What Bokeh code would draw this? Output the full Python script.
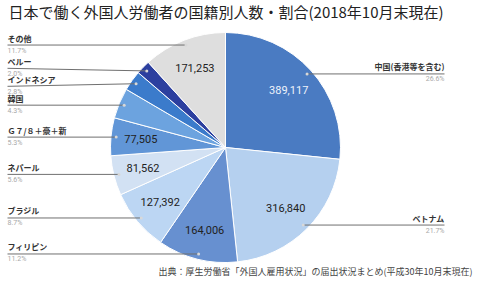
import math
from bokeh.plotting import figure
from bokeh.models import Range1d, ColumnDataSource
from bokeh.core.properties import value
from bokeh.embed import file_html
from bokeh.resources import INLINE

# ---- data ----
countries = ["中国(香港等を含む)", "ベトナム", "フィリピン", "ブラジル", "ネパール",
             "Ｇ７/８＋豪＋新", "韓国", "インドネシア", "ペルー", "その他"]
workers = [389117, 316840, 164006, 127392, 81562, 77505, 62516, 41586, 29102, 171253]
slice_colors = ["#4a7bc2", "#b5d0ef", "#6790d0", "#bcd6f3", "#d2e1f3",
                "#6196d7", "#6ca3df", "#3b7bcb", "#2c3f9f", "#dedede"]
value_text_colors = ["#eef3fb", "#222222", "#222222", "#222222", "#222222",
                     "#222222", "#222222", "#222222", "#222222", "#222222"]
show_value = [True, True, True, True, True, True, False, False, False, True]
title_text = "日本で働く外国人労働者の国籍別人数・割合(2018年10月末現在)"
source_text = "出典：厚生労働省「外国人雇用状況」の届出状況まとめ(平成30年10月末現在)"

# ---- layout ----
W, H = 479, 282
CX, CY_PX, R = 225, 147, 115
CY = H - CY_PX
JP = value("Noto Sans CJK JP")

total = sum(workers)
fracs = [v / total for v in workers]
pcts = [f"{f * 100:.1f}%" for f in fracs]

starts, ends, mids = [], [], []
cum = 0.0
for f in fracs:
    t0 = 2 * math.pi * cum
    cum += f
    t1 = 2 * math.pi * cum
    starts.append(math.pi / 2 - t0)
    ends.append(math.pi / 2 - t1)
    mids.append((t0 + t1) / 2)

p = figure(width=W, height=H, output_backend="svg", toolbar_location=None,
           x_range=Range1d(0, W), y_range=Range1d(0, H), min_border=0)
p.axis.visible = False
p.grid.visible = False
p.outline_line_color = None
p.background_fill_color = "white"
p.border_fill_color = "white"

p.wedge(x=CX, y=CY, radius=R, start_angle=starts, end_angle=ends,
        direction="clock", fill_color=slice_colors, line_color="white", line_width=1)

# value labels inside slices
vx, vy, vt, vc = [], [], [], []
for i, m in enumerate(mids):
    if show_value[i]:
        r = 0.74 * R
        vx.append(CX + r * math.sin(m))
        vy.append(CY + r * math.cos(m))
        vt.append(f"{workers[i]:,}")
        vc.append(value_text_colors[i])
p.text(x=vx, y=vy, text=vt, text_color=vc, text_align="center", text_baseline="middle",
       text_font=value("Roboto"), text_font_size="11px")

# leader dots and labels
dot_x = [CX + 0.955 * R * math.sin(m) for m in mids]
dot_y = [CY + 0.955 * R * math.cos(m) for m in mids]
side_left = [dx < CX for dx in dot_x]

line_y = list(dot_y)
for left in (True, False):
    idx = [i for i in range(len(workers)) if side_left[i] == left]
    for _ in range(50):
        idx.sort(key=lambda i: -line_y[i])
        moved = False
        for a, b in zip(idx, idx[1:]):
            gap = line_y[a] - line_y[b]
            if gap < 18:
                d = (18 - gap) / 2
                line_y[a] += d
                line_y[b] -= d
                moved = True
        if not moved:
            break

LEFT_X, RIGHT_X = 7, 444
lx = [LEFT_X if s else RIGHT_X for s in side_left]
p.segment(x0=lx, y0=line_y, x1=dot_x, y1=dot_y, line_color="#707070", line_width=1)
p.scatter(x=dot_x, y=dot_y, size=3, fill_color="#d8d8d8", line_color=None)

for left in (True, False):
    idx = [i for i in range(len(workers)) if side_left[i] == left]
    align = "left" if left else "right"
    src = ColumnDataSource(dict(
        x=[lx[i] for i in idx],
        yn=[line_y[i] + 1.5 for i in idx],
        yp=[line_y[i] - 1.5 for i in idx],
        name=[countries[i] for i in idx],
        pct=[pcts[i] for i in idx],
    ))
    p.text(x="x", y="yn", text="name", source=src, text_align=align, text_baseline="bottom",
           text_font=JP, text_font_size="8px", text_font_style="bold", text_color="#333333")
    p.text(x="x", y="yp", text="pct", source=src, text_align=align, text_baseline="top",
           text_font=value("Roboto"), text_font_size="7px", text_color="#a8a8a8")

p.text(x=[8], y=[H - 11], text=[title_text], text_align="left", text_baseline="middle",
       text_font=JP, text_font_size="15px", text_color="#222222")
p.text(x=[472], y=[H - 271], text=[source_text], text_align="right", text_baseline="middle",
       text_font=JP, text_font_size="9px", text_color="#444444")

open("out.html", "w").write(file_html(p, INLINE))
